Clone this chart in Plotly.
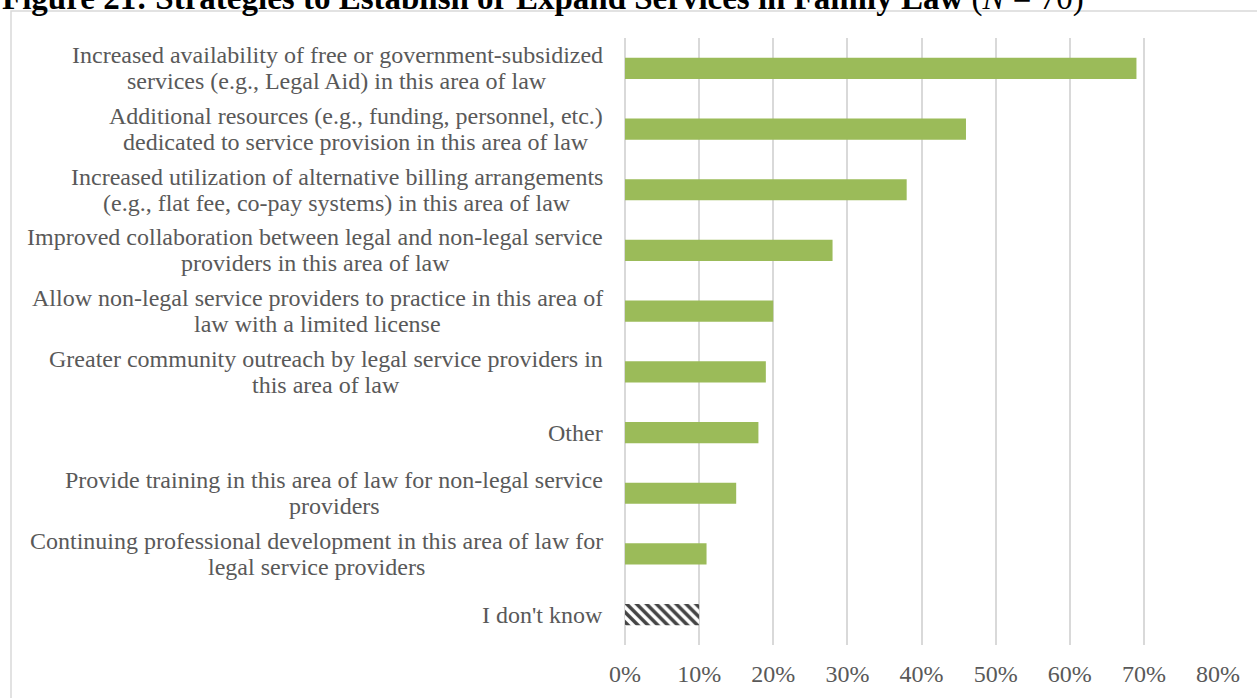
import plotly.graph_objects as go

# Survey responses (share of respondents, N = 70); each label is a list of lines
strategies = [
    ["Increased availability of free or government-subsidized", "services (e.g., Legal Aid) in this area of law"],
    ["Additional resources (e.g., funding, personnel, etc.)", "dedicated to service provision in this area of law"],
    ["Increased utilization of alternative billing arrangements", "(e.g., flat fee, co-pay systems) in this area of law"],
    ["Improved collaboration between legal and non-legal service", "providers in this area of law"],
    ["Allow non-legal service providers to practice in this area of", "law with a limited license"],
    ["Greater community outreach by legal service providers in", "this area of law"],
    ["Other"],
    ["Provide training in this area of law for non-legal service", "providers"],
    ["Continuing professional development in this area of law for", "legal service providers"],
    ["I don't know"],
]
shares = [0.69, 0.46, 0.38, 0.28, 0.20, 0.19, 0.18, 0.15, 0.11, 0.10]
tick_values = [0, 0.1, 0.2, 0.3, 0.4, 0.5, 0.6, 0.7, 0.8]
tick_labels = ["0%", "10%", "20%", "30%", "40%", "50%", "60%", "70%", "80%"]

GREEN = "#9BBB59"
GRID = "#D9D9D9"
TEXT = "#595959"
SERIF = "Liberation Serif, Times New Roman, serif"
LABEL_SIZE = 24
LINE_GAP = 26      # baseline-to-baseline distance of label lines, px
LABEL_PAD = 22     # gap between labels and the axis, px

W, H = 1257, 698
L, R, T, B = 625, 39, 38, 53
PW, PH = W - L - R, H - T - B


def px_x(p):
    return (p - L) / PW


def px_y(p):
    return 1 - (p - T) / PH


# Advance widths of the Times-metric serif face (1/1000 em)
_W = {" ": 250, "(": 333, ")": 333, ",": 250, "-": 333, ".": 250, "'": 180, ":": 278}
_W.update(dict(zip("abcdefghijklmnopqrstuvwxyz",
                   [444, 500, 444, 500, 444, 333, 500, 500, 278, 278, 500, 278, 778,
                    500, 500, 500, 500, 333, 389, 278, 500, 500, 722, 500, 500, 444])))
_W.update(dict(zip("ABCDEFGHIJKLMNOPQRSTUVWXYZ",
                   [722, 667, 667, 722, 611, 556, 722, 722, 333, 389, 722, 611, 889,
                    722, 722, 556, 722, 667, 556, 611, 722, 722, 944, 722, 722, 611])))


def text_width(s, size):
    return sum(_W.get(ch, 500) for ch in s) * size / 1000


cats = [str(i) for i in range(len(strategies))]
is_unknown = [lines == ["I don't know"] for lines in strategies]

fig = go.Figure(
    go.Bar(
        x=shares,
        y=cats,
        orientation="h",
        marker=dict(
            color=["white" if u else GREEN for u in is_unknown],
            line=dict(width=0),
            pattern=dict(
                shape=["\\" if u else "" for u in is_unknown],
                fgcolor="black",
                fgopacity=1,
                fillmode="overlay",
                size=7,
                solidity=0.5,
            ),
        ),
        hoverinfo="skip",
    )
)

# Category labels: block right-aligned to the axis, lines centred within it
annotations = []
for c, lines in zip(cats, strategies):
    block_w = max(text_width(s, LABEL_SIZE) for s in lines)
    n = len(lines)
    for k, s in enumerate(lines):
        annotations.append(
            dict(
                x=0, xref="x", y=c, yref="y",
                text=s, showarrow=False,
                xanchor="center", yanchor="middle",
                xshift=-LABEL_PAD - block_w / 2,
                yshift=((n - 1) / 2 - k) * LINE_GAP,
                font=dict(family=SERIF, size=LABEL_SIZE, color=TEXT),
            )
        )

# Figure caption along the top edge
annotations.append(
    dict(
        x=px_x(0), xref="paper", y=px_y(19), yref="paper",
        xanchor="left", yanchor="bottom", showarrow=False,
        text="<b>Figure 21: Strategies to Establish or Expand Services in Family Law</b> (<i>N</i> = 70)",
        font=dict(family=SERIF, size=33, color="black"),
    )
)

fig.update_layout(
    width=W, height=H,
    margin=dict(l=L, r=R, t=T, b=B),
    paper_bgcolor="white", plot_bgcolor="white",
    bargap=0.65,
    showlegend=False,
    annotations=annotations,
    shapes=[
        dict(
            type="rect", xref="paper", yref="paper",
            x0=px_x(11), x1=px_x(W + 20), y0=px_y(H + 20), y1=px_y(11),
            line=dict(color=GRID, width=1.5), fillcolor="rgba(0,0,0,0)",
            layer="below",
        )
    ],
    xaxis=dict(
        range=[0, 0.8],
        tickvals=tick_values, ticktext=tick_labels,
        showgrid=True, gridcolor=GRID, gridwidth=1.5,
        zeroline=True, zerolinecolor=GRID, zerolinewidth=1.5,
        showline=False, ticks="",
        ticklabelstandoff=12,
        tickfont=dict(family=SERIF, size=24, color=TEXT),
        fixedrange=True,
    ),
    yaxis=dict(
        autorange="reversed",
        showticklabels=False, showgrid=False, zeroline=False,
        showline=False, ticks="",
        fixedrange=True,
    ),
)

fig.write_html("out.html")
